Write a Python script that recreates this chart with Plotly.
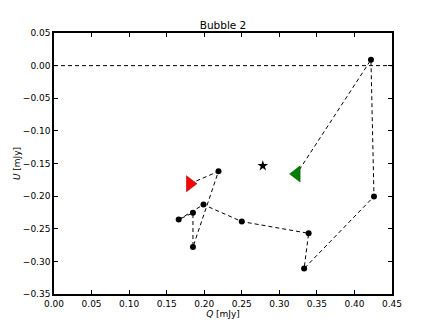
import plotly.graph_objects as go

# path of points (dashed line), from start (red) to end (green)
q_path = [0.181, 0.219, 0.185, 0.185, 0.166, 0.199, 0.250, 0.339, 0.333, 0.426, 0.422, 0.323]
u_path = [-0.181, -0.162, -0.278, -0.2255, -0.236, -0.213, -0.239, -0.257, -0.311, -0.2005, 0.009, -0.166]

q_pts = q_path[1:-1]
u_pts = u_path[1:-1]

q_start, u_start = [0.181], [-0.181]
q_end, u_end = [0.323], [-0.166]
q_star, u_star = [0.278], [-0.1536]

x_ticks = [0.00, 0.05, 0.10, 0.15, 0.20, 0.25, 0.30, 0.35, 0.40, 0.45]
y_ticks = [0.05, 0.00, -0.05, -0.10, -0.15, -0.20, -0.25, -0.30, -0.35]

font = "DejaVu Sans"

fig = go.Figure()
# zero line
fig.add_trace(go.Scatter(x=[0.0, 0.45], y=[0.0, 0.0], mode="lines",
                         line=dict(color="black", width=1, dash="4px,3px"),
                         hoverinfo="skip", showlegend=False))
fig.add_trace(go.Scatter(x=q_path, y=u_path, mode="lines",
                         line=dict(color="black", width=1, dash="4px,3px"),
                         showlegend=False))
fig.add_trace(go.Scatter(x=q_pts, y=u_pts, mode="markers",
                         marker=dict(color="black", size=6, symbol="circle"),
                         showlegend=False))
fig.add_trace(go.Scatter(x=q_start, y=u_start, mode="markers",
                         marker=dict(color="red", size=14, symbol="triangle-right",
                                     line=dict(color="#800000", width=0.5)),
                         showlegend=False))
fig.add_trace(go.Scatter(x=q_end, y=u_end, mode="markers",
                         marker=dict(color="green", size=14, symbol="triangle-left",
                                     line=dict(color="#004000", width=0.5)),
                         showlegend=False))
fig.add_trace(go.Scatter(x=q_star, y=u_star, mode="markers",
                         marker=dict(color="black", size=8, symbol="star"),
                         showlegend=False))

axis_common = dict(showgrid=False, zeroline=False, showline=True, linecolor="black",
                   linewidth=1.5, mirror="ticks", ticks="inside", ticklen=4,
                   tickwidth=1, tickcolor="black", automargin=False,
                   tickfont=dict(family=font, size=9, color="black"))

fig.update_xaxes(range=[0, 0.45], tickvals=x_ticks,
                 ticktext=[f"{v:.2f}" for v in x_ticks],
                 title=dict(text="<i>Q</i> [mJy]", font=dict(family=font, size=9, color="black"),
                            standoff=0),
                 **axis_common)
fig.update_yaxes(range=[-0.35, 0.05], tickvals=y_ticks,
                 ticktext=[f"{v:.2f}".replace("-", "\u2212") for v in y_ticks],
                 title=dict(text="<i>U</i> [mJy]", font=dict(family=font, size=9, color="black"),
                            standoff=1),
                 **axis_common)

# page body has an 8px default margin, so the figure is offset by 8px
fig.update_layout(
    width=428, height=319,
    margin=dict(l=46, r=44, t=25, b=33, autoexpand=False),
    paper_bgcolor="white", plot_bgcolor="white",
    title=dict(text="Bubble 2", x=0.5, xanchor="center", xref="paper",
               y=1, yref="paper", yanchor="bottom", pad=dict(b=4),
               font=dict(family=font, size=10.5, color="black")),
    showlegend=False,
)

fig.write_html("out.html")
